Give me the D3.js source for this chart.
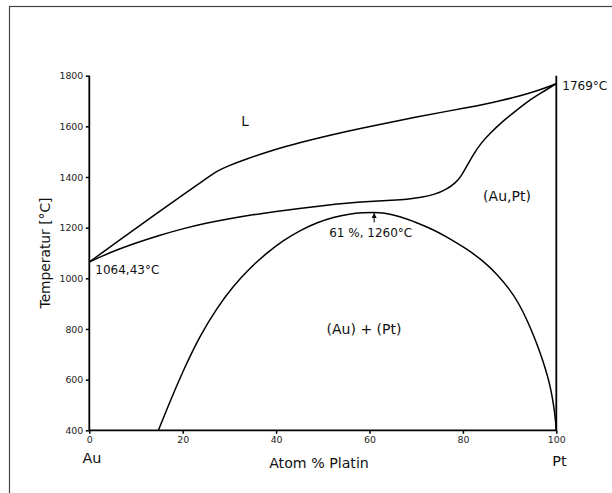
<!DOCTYPE html>
<html>
<head>
<meta charset="utf-8">
<script src="https://cdn.jsdelivr.net/npm/d3@7"></script>
<style>
  html, body { margin: 0; padding: 0; background: #fff; }
  svg { display: block; font-family: "DejaVu Sans", sans-serif; }
</style>
</head>
<body>
<svg id="chart" width="612" height="493"></svg>
<script>
// Au–Pt phase diagram: composition in atom % Pt, temperature in °C
const xTicks = [0, 20, 40, 60, 80, 100];
const yTicks = [400, 600, 800, 1000, 1200, 1400, 1600, 1800];

// Liquidus line
const liquidus = [
  [0, 1064.43], [7, 1158], [14, 1251], [21, 1342], [25.5, 1400], [27.6, 1426],
  [30, 1446], [33, 1467], [37.6, 1496], [41.5, 1519], [48.7, 1553], [55.8, 1583],
  [63, 1611], [70.1, 1637], [77, 1661], [81, 1674], [85, 1689], [88, 1701],
  [92, 1719], [95, 1735], [98, 1754], [100, 1769]
];

// Solidus line
const solidus = [
  [0, 1064.43], [3, 1090], [6, 1113], [10, 1140], [15, 1170], [20, 1196],
  [25, 1218], [30, 1236], [35, 1251], [40, 1264], [45, 1276], [50, 1287],
  [55, 1296.5], [60, 1303.5], [65, 1308.5], [68, 1312], [71, 1319], [74, 1331],
  [76.5, 1351], [78.5, 1378], [79.7, 1405], [81, 1448], [82.2, 1488], [84, 1537],
  [85.8, 1572], [88, 1612], [91.5, 1664], [94, 1700], [96.5, 1729], [100, 1769]
];

// Miscibility gap (Au) + (Pt)
const gap = [
  [14.8, 400], [16.6, 483], [20.1, 637], [23.7, 774], [27.3, 882], [30.8, 969],
  [34.4, 1041], [38, 1100], [41.5, 1149], [45.1, 1189], [48.7, 1220], [52.3, 1242],
  [55.8, 1254], [58.5, 1259], [61, 1261], [63, 1259], [66.5, 1245], [70.1, 1220],
  [73.7, 1192], [77.2, 1157], [80.8, 1116], [84.4, 1068], [87.2, 1018], [90.1, 955],
  [92, 900], [93.7, 837], [95.2, 772], [96.5, 708], [97.7, 642], [98.7, 575],
  [99.4, 505], [99.8, 445], [100, 400]
];

const meltAu = [0, 1064.43];
const meltPt = [100, 1769];
const gapTop = [61, 1260];

const svg = d3.select("#chart");

// outer frame
svg.append("rect")
  .attr("x", 9.5).attr("y", 6.5)
  .attr("width", 700).attr("height", 600)
  .attr("fill", "none").attr("stroke", "#444").attr("stroke-width", 1.2);

const x = d3.scaleLinear().domain([0, 100]).range([89.3, 556.3]);
const y = d3.scaleLinear().domain([400, 1800]).range([430.3, 75.7]);

// axes
const xAxis = d3.axisBottom(x).tickValues(xTicks).tickSize(3.5).tickPadding(3).tickFormat(d3.format("d"));
const yAxis = d3.axisLeft(y).tickValues(yTicks).tickSize(3.5).tickPadding(2.5).tickFormat(d3.format("d"));

const gx = svg.append("g").attr("transform", `translate(0,${y(400)})`).call(xAxis);
const gy = svg.append("g").attr("transform", `translate(${x(0)},0)`).call(yAxis);
[gx, gy].forEach(g => {
  g.select(".domain").remove();
  g.selectAll(".tick line").attr("stroke", "#000").attr("stroke-width", 1.5);
  g.selectAll(".tick text").attr("font-size", 9.4).attr("fill", "#222")
    .attr("font-family", "DejaVu Sans, sans-serif");
});

// axis frame lines: left, bottom and the pure-Pt side
const frame = svg.append("g").attr("stroke", "#000").attr("stroke-width", 1.8).attr("fill", "none");
frame.append("line").attr("x1", x(0)).attr("x2", x(0)).attr("y1", y(400)).attr("y2", y(1800));
frame.append("line").attr("x1", x(0)).attr("x2", x(100)).attr("y1", y(400)).attr("y2", y(400));
frame.append("line").attr("x1", x(100)).attr("x2", x(100)).attr("y1", y(400)).attr("y2", y(1800));

// phase boundaries, drawn as smoothed splines through the sampled points
const line = d3.line().x(d => x(d[0])).y(d => y(d[1])).curve(d3.curveBasis);
const curves = svg.append("g").attr("fill", "none").attr("stroke", "#000").attr("stroke-width", 1.5);
curves.append("path").attr("d", line(liquidus));
curves.append("path").attr("d", line(solidus));
curves.append("path").attr("d", line(gap));

// arrow marking the top of the miscibility gap
svg.append("defs").append("marker")
  .attr("id", "arrowhead")
  .attr("viewBox", "0 0 10 10").attr("refX", 10).attr("refY", 5)
  .attr("markerWidth", 5).attr("markerHeight", 5)
  .attr("markerUnits", "userSpaceOnUse")
  .attr("orient", "auto")
  .append("path").attr("d", "M0,0 L10,5 L0,10 Z").attr("fill", "#000");
svg.append("line")
  .attr("x1", x(gapTop[0])).attr("x2", x(gapTop[0]))
  .attr("y1", y(gapTop[1]) + 10).attr("y2", y(gapTop[1]) + 0.5)
  .attr("stroke", "#000").attr("stroke-width", 1)
  .attr("marker-end", "url(#arrowhead)");

// labels
const text = (t, px, py, size, anchor = "middle") =>
  svg.append("text").attr("x", px).attr("y", py)
    .attr("font-size", size).attr("text-anchor", anchor)
    .attr("dominant-baseline", "central").attr("fill", "#111").text(t);

text("L", 245, 121, 13.5);
text("(Au,Pt)", 507, 196, 14);
text("(Au) + (Pt)", 364, 329, 14);
text("61 %, 1260°C", x(gapTop[0]) - 3.5, y(gapTop[1]) + 20.5, 12);
text("1064,43°C", x(meltAu[0]) + 6, y(meltAu[1]) + 7.5, 12, "start");
text("1769°C", x(meltPt[0]) + 6, y(meltPt[1]) + 2, 12, "start");
text("Au", 92, 458, 14.4);
text("Pt", 559.5, 461, 14.4);
text("Atom % Platin", 319, 463, 14.2);

svg.append("text")
  .attr("transform", `translate(45,253) rotate(-90)`)
  .attr("font-size", 13.8).attr("text-anchor", "middle")
  .attr("dominant-baseline", "central").attr("fill", "#111")
  .text("Temperatur [°C]");
</script>
</body>
</html>
